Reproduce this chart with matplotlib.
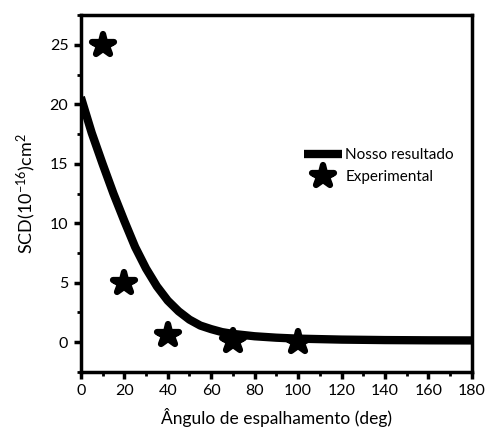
import matplotlib
matplotlib.use("Agg")
import matplotlib.pyplot as plt
from matplotlib.ticker import MultipleLocator
from matplotlib.markers import MarkerStyle

plt.rcParams['font.family'] = ['Lato', 'DejaVu Sans']
plt.rcParams['text.color'] = 'black'
plt.rcParams['xtick.color'] = 'black'
plt.rcParams['ytick.color'] = 'black'
plt.rcParams['mathtext.fontset'] = 'custom'
plt.rcParams['mathtext.rm'] = 'Lato'
plt.rcParams['mathtext.it'] = 'Lato'

curve_x = [0, 5, 10, 15, 20, 25, 30, 35, 40, 45, 50, 55, 60, 65, 70, 80, 90, 100, 120, 140, 160, 180]
curve_y = [20.6, 17.6, 15.0, 12.5, 10.2, 8.0, 6.2, 4.7, 3.5, 2.6, 1.9, 1.4, 1.1, 0.85, 0.7, 0.5, 0.38, 0.3, 0.22, 0.18, 0.16, 0.15]
exp_x = [10, 20, 40, 70, 100]
exp_y = [25, 5, 0.6, 0.1, 0.0]

fig = plt.figure(figsize=(4.87, 4.32), dpi=100)
ax = fig.add_axes([0.166, 0.139, 0.803, 0.826])

ax.plot(curve_x, curve_y, color='black', lw=6, solid_capstyle='butt', solid_joinstyle='round',
        label='Nosso resultado', zorder=2)
star = MarkerStyle('*', joinstyle='round')
ax.plot(exp_x, exp_y, linestyle='none', marker=star, markersize=16, color='black',
        markeredgewidth=4.5, markeredgecolor='black', label='Experimental', zorder=3)

ax.set_xlim(0, 180)
ax.set_ylim(-2.5, 27.5)
ax.xaxis.set_major_locator(MultipleLocator(20))
ax.xaxis.set_minor_locator(MultipleLocator(10))
ax.yaxis.set_major_locator(MultipleLocator(5))
ax.yaxis.set_minor_locator(MultipleLocator(2.5))

for s in ax.spines.values():
    s.set_linewidth(2.5)
ax.tick_params(which='major', direction='out', length=5, width=2.5, labelsize=11.5, pad=4)
ax.tick_params(which='minor', direction='out', length=3, width=2)

ax.set_xlabel('Ângulo de espalhamento (deg)', fontsize=12.5, labelpad=7)
ax.set_ylabel('SCD(10$^{-16}$)cm$^2$', fontsize=13, labelpad=8)

leg = ax.legend(loc='upper left', bbox_to_anchor=(0.555, 0.645), frameon=False, fontsize=11,
                handlelength=2.5, handletextpad=0.2, labelspacing=0.55, borderaxespad=0)

fig.savefig('out.png', dpi=100)
